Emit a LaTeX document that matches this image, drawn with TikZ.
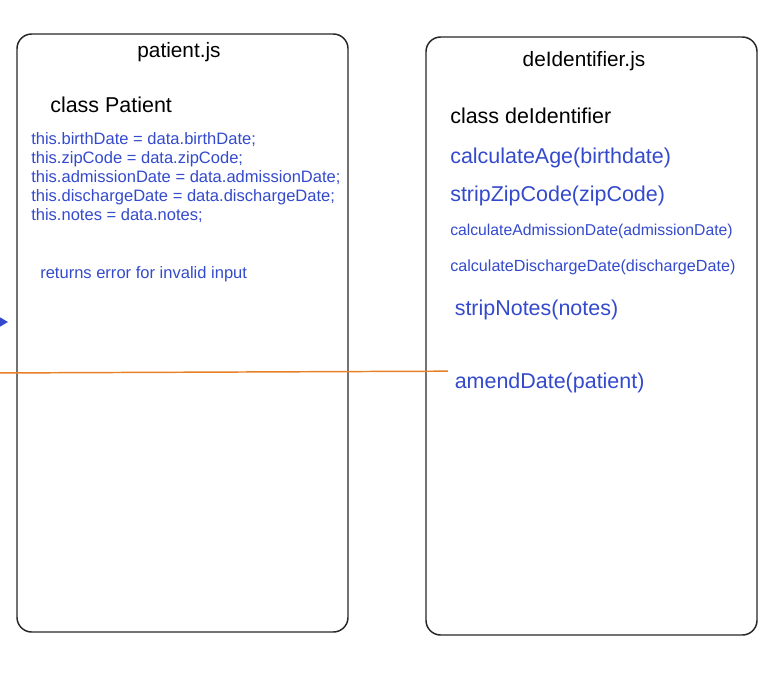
\documentclass[tikz,border=0pt]{standalone}
\usepackage{fontspec}
\setmainfont{Liberation Sans}
\usepackage{xcolor}
\usepackage{tikz}
\usetikzlibrary{positioning, arrows.meta}

\definecolor{codeblue}{RGB}{52,74,204}
\definecolor{linkorange}{RGB}{232,128,40}

\tikzset{
    filebox/.style={draw=black!85, line width=1.1pt, rounded corners=11pt},
    title/.style={anchor=base, inner sep=0pt, font=\fontsize{15.6}{18}\selectfont},
    big/.style={anchor=base west, inner sep=0pt, font=\fontsize{16.1}{19}\selectfont},
    code/.style={anchor=base west, inner sep=0pt, text=codeblue, font=\fontsize{12.4}{14.25}\selectfont},
    small/.style={anchor=base west, inner sep=0pt, text=codeblue, font=\fontsize{11.8}{14}\selectfont}
}

\begin{document}
\begin{tikzpicture}[x=0.75pt,y=0.75pt,yscale=-1,xscale=1]
        \useasboundingbox (0,0) rectangle (778,672);
        % patient.js
        \draw [filebox] (17,34) rectangle (348,632);
        \node (pjs) at (179,57) [title] {patient.js};
        \node (pclass) at (50,112.5) [big] {class Patient};
        \foreach \txt [count=\i] in {this.birthDate = data.birthDate;, this.zipCode = data.zipCode;, this.admissionDate = data.admissionDate;, this.dischargeDate = data.dischargeDate;, this.notes = data.notes;}{
            \node (field\i) at (31,125.5+19*\i) [code] {\txt};
        }
        \node (perr) at (40,278) [code] {returns error for invalid input};
        % deIdentifier.js
        \draw [filebox] (426,37) rectangle (757,635);
        \node (djs) at (584,66) [title] {deIdentifier.js};
        \node (dclass) at (450,123.5) [big] {class deIdentifier};
        \node (age) at (450,163) [big, text=codeblue] {calculateAge(birthdate)};
        \node (zip) at (450,201.5) [big, text=codeblue] {stripZipCode(zipCode)};
        \node (adm) at (450,235) [small] {calculateAdmissionDate(admissionDate)};
        \node (dis) at (450,271.5) [small, font=\fontsize{12.1}{14}\selectfont] {calculateDischargeDate(dischargeDate)};
        \node (notes) at (454.5,315.5) [big, text=codeblue] {stripNotes(notes)};
        \node (amend) at (454.5,388.5) [big, text=codeblue] {amendDate(patient)};
        % connectors coming in from the left
        \coordinate (orangein) at (-10,373);
        \draw [linkorange, line width=1.1pt] (orangein) -- ([xshift=-5pt,yshift=-13pt]amend.base west);
        \coordinate (bluein) at (-30,322);
        \coordinate (bluetip) at (8,322);
        \draw [codeblue, line width=1.2pt, -{Triangle[length=7.5pt,width=8.5pt]}] (bluein) -- (bluetip);
    \end{tikzpicture}
\end{document}
